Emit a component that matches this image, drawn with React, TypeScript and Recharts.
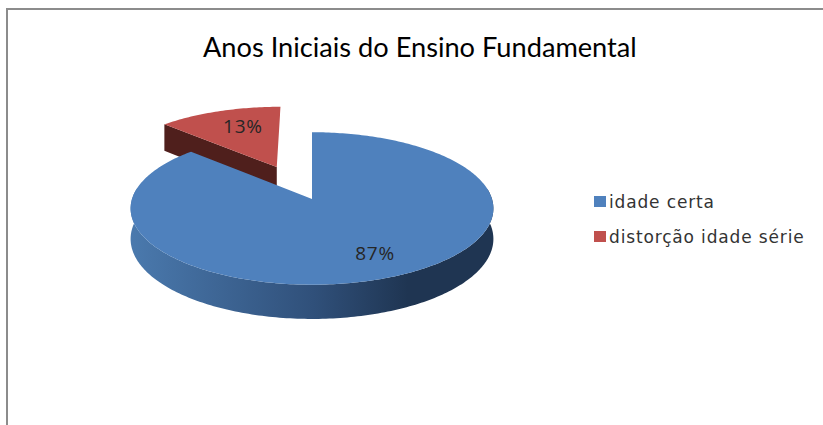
import { Cell, Legend, Pie, PieChart } from 'recharts'

const TITLE = 'Anos Iniciais do Ensino Fundamental'

const categories = ['idade certa', 'distorção idade série']
const shares = [87, 13]
const colors = ['#4f81bd', '#c0504d']
const explodes = [0, 0.49]

// slices are painted in table order, the red one has to sit behind the blue one
const drawOrder = [1, 0]
const chartData = drawOrder.map((i) => ({ name: categories[i], value: shares[i] }))
const total = shares.reduce((sum, v) => sum + v, 0)
const startAngle = 90 + (360 * shares[1]) / total

// fake 3D: a flat circle seen in perspective
const SQUASH = 0.417
const PERSPECTIVE = 0.124
const DEPTH = 30
const EXPLODE_NUDGE = -0.012

function project(cx: number, cy: number, r: number, u: number, v: number) {
  const w = 1 + PERSPECTIVE * v
  return { x: cx + (r * u) / w, y: cy - (r * SQUASH * v) / w, w }
}

function toPath(points: { x: number; y: number }[]) {
  return points.map((p, i) => `${i ? 'L' : 'M'}${p.x.toFixed(2)},${p.y.toFixed(2)}`).join(' ') + ' Z'
}

function Slice3D(props: any) {
  const { cx, cy, outerRadius, startAngle: from, endAngle: to, fill, name, payload } = props
  const index = categories.indexOf(name ?? payload?.name)
  const shift = explodes[index] ?? 0
  const midRad = ((from + to) / 2) * (Math.PI / 180)
  const ox = shift * Math.cos(midRad) + (shift ? EXPLODE_NUDGE : 0)
  const oy = shift * Math.sin(midRad)

  const steps = Math.max(8, Math.round(Math.abs(from - to)))
  const top: { x: number; y: number; w: number }[] = []
  const front: { x: number; y: number; w: number }[] = []
  for (let i = 0; i <= steps; i++) {
    const rad = (from + ((to - from) * i) / steps) * (Math.PI / 180)
    const p = project(cx, cy, outerRadius, ox + Math.cos(rad), oy + Math.sin(rad))
    top.push(p)
    // the back of the rim faces away from us
    if (Math.sin(rad) < 0.15) front.push(p)
  }
  const lower = (p: { x: number; y: number; w: number }) => ({ x: p.x, y: p.y + DEPTH / p.w })
  const apex = project(cx, cy, outerRadius, ox, oy)
  const sideFill = index === 0 ? 'url(#blueSide)' : '#4f1f1c'

  return (
    <g>
      <defs>
        <linearGradient id="blueSide" gradientUnits="userSpaceOnUse" x1={132} y1={0} x2={495} y2={0}>
          <stop offset="0" stopColor="#4a79ad" />
          <stop offset="0.5" stopColor="#30507a" />
          <stop offset="0.76" stopColor="#1f3552" />
          <stop offset="1" stopColor="#1f3552" />
        </linearGradient>
      </defs>
      {front.length > 1 && <path d={toPath([...front, ...front.map(lower).reverse()])} fill={sideFill} />}
      <path d={toPath([apex, top[0], lower(top[0]), lower(apex)])} fill={sideFill} />
      <path d={toPath([apex, ...top])} fill={fill} />
    </g>
  )
}

function SliceLabel(props: any) {
  const { cx, cy, outerRadius, midAngle, name, value } = props
  const index = categories.indexOf(name)
  const rad = (midAngle * Math.PI) / 180
  const reach = (explodes[index] ?? 0) + 0.72
  const at = project(cx, cy, outerRadius, reach * Math.cos(rad), reach * Math.sin(rad))
  return (
    <text
      x={at.x + 7}
      y={at.y}
      textAnchor="middle"
      dominantBaseline="central"
      fontFamily="'Open Sans', sans-serif"
      fontSize={19}
      letterSpacing={0.8}
      fill="#262626"
    >
      {`${Math.round((value / total) * 100)}%`}
    </text>
  )
}

function LegendList() {
  return (
    <div>
      {categories.map((name, i) => (
        <div key={name} style={{ display: 'flex', alignItems: 'center', height: 35, whiteSpace: 'nowrap' }}>
          <span style={{ width: 12, height: 11, background: colors[i], marginRight: 3 }} />
          <span style={{ fontFamily: "'DejaVu Sans', sans-serif", fontSize: 17, letterSpacing: 0.85, color: '#333333' }}>
            {name}
          </span>
        </div>
      ))}
    </div>
  )
}

export default function App() {
  return (
    <div style={{ position: 'absolute', left: 0, top: 0, width: 823, height: 425, background: '#ffffff', overflow: 'hidden' }}>
      <div style={{ position: 'absolute', left: 6, top: 8, right: 0, height: 2, background: '#8c8c8c' }} />
      <div style={{ position: 'absolute', left: 6, top: 8, bottom: 0, width: 2, background: '#8c8c8c' }} />
      <div
        style={{
          position: 'absolute',
          left: 203,
          top: 31,
          fontFamily: 'Lato, sans-serif',
          fontSize: 27.2,
          lineHeight: '32px',
          color: '#000000',
          whiteSpace: 'nowrap',
        }}
      >
        {TITLE}
      </div>
      <PieChart
        width={823}
        height={425}
        margin={{ top: 0, right: 0, bottom: 0, left: 0 }}
        style={{ position: 'absolute', left: 0, top: 0 }}
      >
        <Pie
          data={chartData}
          dataKey="value"
          nameKey="name"
          cx={312}
          cy={199}
          innerRadius={0}
          outerRadius={180}
          startAngle={startAngle}
          endAngle={startAngle - 360}
          stroke="none"
          isAnimationActive={false}
          labelLine={false}
          label={SliceLabel}
          shape={Slice3D}
        >
          {chartData.map((entry) => (
            <Cell key={entry.name} fill={colors[categories.indexOf(entry.name)]} />
          ))}
        </Pie>
        <Legend
          layout="vertical"
          align="right"
          verticalAlign="top"
          wrapperStyle={{ left: 594, top: 184, width: 225 }}
          content={LegendList}
        />
      </PieChart>
    </div>
  )
}
